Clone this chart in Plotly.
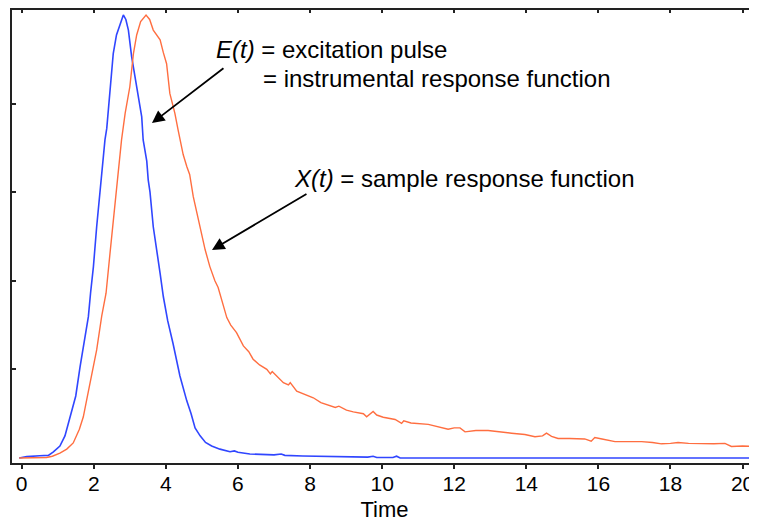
import plotly.graph_objects as go

# E(t): excitation pulse / instrumental response function (blue)
time_e = [-0.07, 0.14, 0.5, 0.74, 0.88, 1.06, 1.2, 1.34, 1.5, 1.62, 1.75, 1.85, 1.91, 1.99,
          2.08, 2.17, 2.22, 2.31, 2.36, 2.45, 2.54, 2.63, 2.68, 2.73, 2.82, 2.89, 2.96, 3.05,
          3.12, 3.19, 3.28, 3.33, 3.37, 3.47, 3.51, 3.56, 3.65, 3.75, 3.84, 3.93, 4.05, 4.2,
          4.39, 4.58, 4.7, 4.81, 4.95, 5.1, 5.27, 5.5, 5.78, 5.9, 6.0, 6.33, 6.7, 7.0, 7.2,
          7.3, 7.8, 8.5, 9.2, 9.6, 9.75, 9.85, 10.3, 10.4, 10.5, 12.0, 14.0, 16.0, 18.0, 20.4]
irf = [0.0, 0.003, 0.005, 0.006, 0.014, 0.027, 0.05, 0.09, 0.14, 0.206, 0.27, 0.319, 0.372, 0.432,
       0.522, 0.6, 0.628, 0.718, 0.744, 0.837, 0.913, 0.955, 0.966, 0.977, 1.0, 0.99, 0.966, 0.906,
       0.87, 0.838, 0.79, 0.77, 0.718, 0.67, 0.628, 0.6, 0.522, 0.47, 0.417, 0.364, 0.31, 0.258,
       0.185, 0.129, 0.1, 0.068, 0.05, 0.035, 0.027, 0.02, 0.014, 0.016, 0.013, 0.009, 0.007, 0.007, 0.009,
       0.006, 0.0045, 0.003, 0.0016, 0.002, 0.004, 0.001, 0.001, 0.004, 0.0, 0.0, 0.0, 0.0, 0.0, 0.0]

# X(t): sample response function (orange)
time_x = [-0.07, 0.3, 0.69, 0.85, 1.06, 1.25, 1.43, 1.6, 1.71, 1.8, 1.9, 2.0, 2.08, 2.22, 2.34,
          2.45, 2.59, 2.66, 2.77, 2.87, 3.0, 3.1, 3.19, 3.23, 3.3, 3.45, 3.55, 3.65, 3.75, 3.84,
          3.93, 4.02, 4.11, 4.25, 4.34, 4.48, 4.58, 4.66, 4.76, 4.85, 4.95, 5.09, 5.22, 5.36,
          5.45, 5.55, 5.69, 5.8, 5.96, 6.15, 6.3, 6.42, 6.6, 6.8, 6.9, 6.95, 7.07, 7.26, 7.4,
          7.45, 7.63, 7.8, 8.09, 8.3, 8.55, 8.7, 8.8, 9.01, 9.2, 9.48, 9.57, 9.75, 9.85, 10.03,
          10.36, 10.54, 10.6, 10.8, 11.28, 11.5, 11.83, 12.0, 12.16, 12.3, 12.6, 12.94, 13.2,
          13.59, 13.96, 14.24, 14.45, 14.56, 14.7, 14.88, 15.2, 15.62, 15.8, 15.9, 16.1, 16.46,
          16.8, 17.2, 17.5, 17.75, 18.0, 18.21, 18.5, 18.77, 19.2, 19.51, 19.69, 20.0, 20.4]
sample = [0.0, 0.0, 0.001, 0.004, 0.011, 0.02, 0.034, 0.065, 0.093, 0.13, 0.169, 0.21, 0.244, 0.32, 0.372,
          0.462, 0.567, 0.63, 0.718, 0.778, 0.838, 0.913, 0.955, 0.966, 0.985, 1.0, 0.99, 0.966, 0.955, 0.944,
          0.915, 0.89, 0.823, 0.778, 0.74, 0.685, 0.658, 0.64, 0.59, 0.556, 0.526, 0.47, 0.432, 0.40,
          0.385, 0.359, 0.317, 0.3, 0.283, 0.253, 0.24, 0.223, 0.21, 0.2, 0.19, 0.195, 0.185, 0.17, 0.165,
          0.17, 0.151, 0.145, 0.136, 0.125, 0.118, 0.114, 0.117, 0.108, 0.104, 0.1, 0.093, 0.105, 0.097, 0.092,
          0.087, 0.078, 0.084, 0.079, 0.076, 0.072, 0.065, 0.068, 0.068, 0.059, 0.062, 0.062, 0.059,
          0.056, 0.053, 0.048, 0.05, 0.056, 0.049, 0.044, 0.044, 0.043, 0.038, 0.046, 0.043, 0.037,
          0.037, 0.037, 0.035, 0.032, 0.033, 0.035, 0.033, 0.032, 0.032, 0.033, 0.026, 0.027, 0.026]

x_ticks = [0, 2, 4, 6, 8, 10, 12, 14, 16, 18, 20]
x_tick_labels = [str(v) for v in x_ticks]
y_ticks = [0.2, 0.4, 0.6, 0.8]

FONT = "Liberation Sans, Arial, sans-serif"

fig = go.Figure()
fig.add_trace(go.Scatter(x=time_e, y=irf, mode="lines",
                         line=dict(color="#3046ff", width=1.6), showlegend=False, hoverinfo="skip"))
fig.add_trace(go.Scatter(x=time_x, y=sample, mode="lines", xaxis="x2",
                         line=dict(color="#ff6e40", width=1.4), showlegend=False, hoverinfo="skip"))

# page body has an 8px margin: figure occupies screen x 8..757, y 8..524
OFF = 8
W, H = 757 - OFF, 524 - OFF
ml, mr, mt, mb = 12 - OFF, 0, 10 - OFF, 61

fig.update_layout(
    width=W, height=H,
    margin=dict(l=ml, r=mr, t=mt, b=mb),
    paper_bgcolor="white", plot_bgcolor="white",
    font=dict(family=FONT, color="black"),
    xaxis=dict(range=[-0.269, 20.4], tickvals=x_ticks, ticktext=x_tick_labels,
               ticks="outside", ticklen=4, tickwidth=1.5, tickcolor="#222",
               showline=True, linewidth=2, linecolor="#222", mirror=True,
               showgrid=False, zeroline=False, ticklabelstandoff=-3,
               tickfont=dict(size=21, family=FONT, color="black"),
               title=dict(text="Time", font=dict(size=22, family=FONT, color="black"), standoff=7)),
    xaxis2=dict(overlaying="x", side="top", matches="x", tickvals=x_ticks,
                ticks="inside", ticklen=3, tickwidth=1.5, tickcolor="#222",
                showticklabels=False, showline=False, showgrid=False, zeroline=False),
    yaxis=dict(range=[-0.0113, 1.0113], tickvals=y_ticks, ticks="inside", ticklen=4,
               tickwidth=1.5, tickcolor="#222", showticklabels=False,
               showline=True, linewidth=2, linecolor="#222", mirror=False,
               showgrid=False, zeroline=False),
)

pw = W - ml - mr
ph = H - mt - mb

def px(xs):
    # screen pixel x -> paper fraction
    return (xs - OFF - ml) / pw

def py(ys):
    # screen pixel y -> paper fraction
    return (H - mb - (ys - OFF)) / ph

texts = [
    ("<i>E(t)</i> = excitation pulse", 214, 49),
    ("= instrumental response function", 261, 78),
    ("<i>X(t)</i> = sample response function", 292, 178),
]
for t, xs, ys in texts:
    fig.add_annotation(text=t, xref="paper", yref="paper", x=px(xs), y=py(ys),
                       xanchor="left", yanchor="middle", showarrow=False,
                       font=dict(size=24, family=FONT, color="black"))

# arrows: head position (in axis units) with pixel offset to tail
arrows = [(3.614, 0.756, 73, -56), (5.279, 0.4695, 96, -57)]
for hx, hy, axp, ayp in arrows:
    fig.add_annotation(x=hx, y=hy, xref="x", yref="y", ax=axp, ay=ayp, text="",
                       showarrow=True, arrowhead=2, arrowsize=1.4, arrowwidth=1.8,
                       arrowcolor="black")

fig.write_html("out.html")
